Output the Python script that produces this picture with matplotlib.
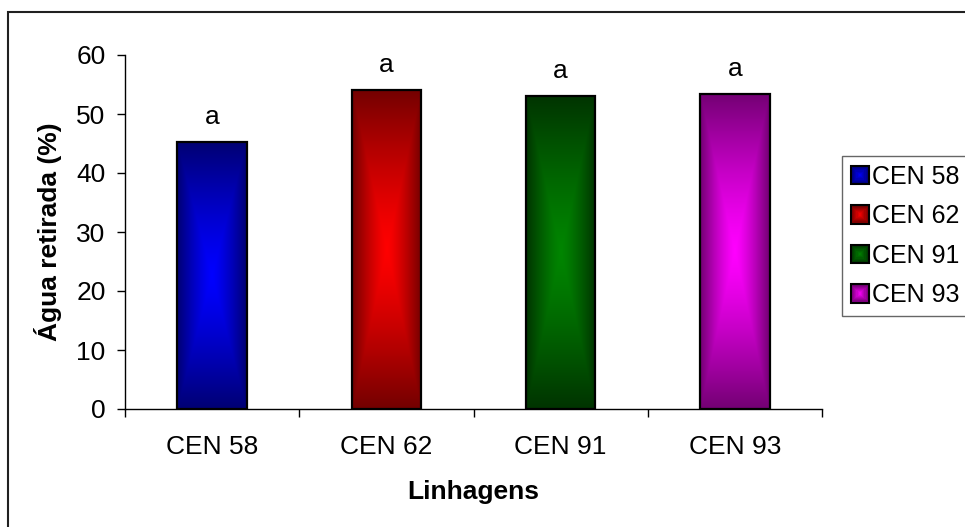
"""Bar chart: water withdrawn (%) per line, Excel-style gradient bars."""
import numpy as np
import matplotlib

matplotlib.use("Agg")
from matplotlib import pyplot as plt
from matplotlib.legend_handler import HandlerBase
from matplotlib.patches import Rectangle

plt.rcParams["font.family"] = ["Liberation Sans", "DejaVu Sans"]

categories = ["CEN 58", "CEN 62", "CEN 91", "CEN 93"]
values = [45.2, 54.1, 53.1, 53.4]
letters = ["a", "a", "a", "a"]
bright_colors = [(0.0, 0.0, 1.0), (1.0, 0.0, 0.0), (0.0, 0.52, 0.0), (1.0, 0.0, 1.0)]
dark_colors = [(0.0, 0.0, 0.45), (0.45, 0.0, 0.0), (0.0, 0.2, 0.0), (0.45, 0.0, 0.45)]

FS = 19


def gradient_image(bright, dark, nx=80, ny=300):
    """Rectangular 'from center' gradient: bright centre, dark edges."""
    u = np.abs(np.linspace(-1, 1, nx))[None, :]
    v = np.abs(np.linspace(-1, 1, ny))[:, None]
    t = np.maximum(u, v) ** 1.3
    b = np.array(bright)[None, None, :]
    d = np.array(dark)[None, None, :]
    return b * (1 - t[..., None]) + d * t[..., None]


class GradientHandler(HandlerBase):
    def __init__(self, bright, dark):
        super().__init__()
        self.bright = np.array(bright)
        self.dark = np.array(dark)

    def create_artists(self, legend, orig_handle, xdescent, ydescent,
                       width, height, fontsize, trans):
        side = min(width, height)
        x0 = -xdescent
        y0 = -ydescent + (height - side) / 2
        arts = []
        n = 8
        for i in range(n):
            f = i / n
            inset = f * side / 2
            col = self.dark * (1 - f) + self.bright * f
            arts.append(Rectangle((x0 + inset, y0 + inset), side - 2 * inset,
                                  side - 2 * inset, facecolor=col,
                                  edgecolor="none", transform=trans))
        arts.append(Rectangle((x0, y0), side, side, facecolor="none",
                              edgecolor="black", linewidth=1.5, transform=trans))
        return arts


fig = plt.figure(figsize=(9.65, 5.27), dpi=100)
ax = fig.add_axes([125 / 965, 1 - 409 / 527, 697 / 965, 354 / 527])

x = np.arange(len(categories))
bars = ax.bar(x, values, width=0.4, facecolor="none", edgecolor="black",
              linewidth=1.6, zorder=3)
for bar, b, d in zip(bars, bright_colors, dark_colors):
    x0 = bar.get_x()
    ax.imshow(gradient_image(b, d), extent=[x0, x0 + bar.get_width(), 0, bar.get_height()],
              aspect="auto", interpolation="bilinear", zorder=2)

for xi, v, s in zip(x, values, letters):
    ax.annotate(s, (xi, v), xytext=(0, 13), textcoords="offset points",
                ha="center", va="baseline", fontsize=FS)

ax.set_xlim(-0.5, len(categories) - 0.5)
ax.set_ylim(0, 60)
ax.set_yticks(np.arange(0, 61, 10))
ax.set_xticks(np.arange(-0.5, len(categories), 1.0))
ax.set_xticklabels([])
ax.set_xticks(x, minor=True)
ax.set_xticklabels(categories, minor=True)
ax.tick_params(axis="x", which="major", length=6, width=1, direction="out")
ax.tick_params(axis="x", which="minor", length=0, pad=19, labelsize=FS)
ax.tick_params(axis="y", length=6, width=1, direction="out", pad=8, labelsize=FS)

for side in ("top", "right"):
    ax.spines[side].set_visible(False)
for side in ("left", "bottom"):
    ax.spines[side].set_linewidth(1)

ax.set_ylabel("Água retirada (%)", fontsize=FS, fontweight="bold")
ax.yaxis.set_label_coords(-0.09, 0.5)
ax.set_xlabel("Linhagens", fontsize=FS, fontweight="bold")
ax.xaxis.set_label_coords(0.5, -0.2)

handles = [Rectangle((0, 0), 1, 1) for _ in categories]
handler_map = {h: GradientHandler(b, d) for h, b, d in zip(handles, bright_colors, dark_colors)}
leg = fig.legend(handles, categories, handler_map=handler_map, loc="upper left",
                 bbox_to_anchor=(842 / 965, 1 - 156 / 527), bbox_transform=fig.transFigure,
                 borderaxespad=0, fontsize=18, frameon=True, fancybox=False,
                 handlelength=0.75, handleheight=0.75, handletextpad=0.12,
                 labelspacing=0.62, borderpad=0.35)
leg.get_frame().set_edgecolor("#404040")
leg.get_frame().set_linewidth(1)

# outer chart-area frame (runs off the right and bottom edges)
fig.patches.append(Rectangle((8 / 965, -0.1), 1.2, 1.1 - 12 / 527, fill=False,
                             edgecolor="#202020", linewidth=1.5,
                             transform=fig.transFigure, figure=fig))

fig.savefig("out.png", dpi=100)
